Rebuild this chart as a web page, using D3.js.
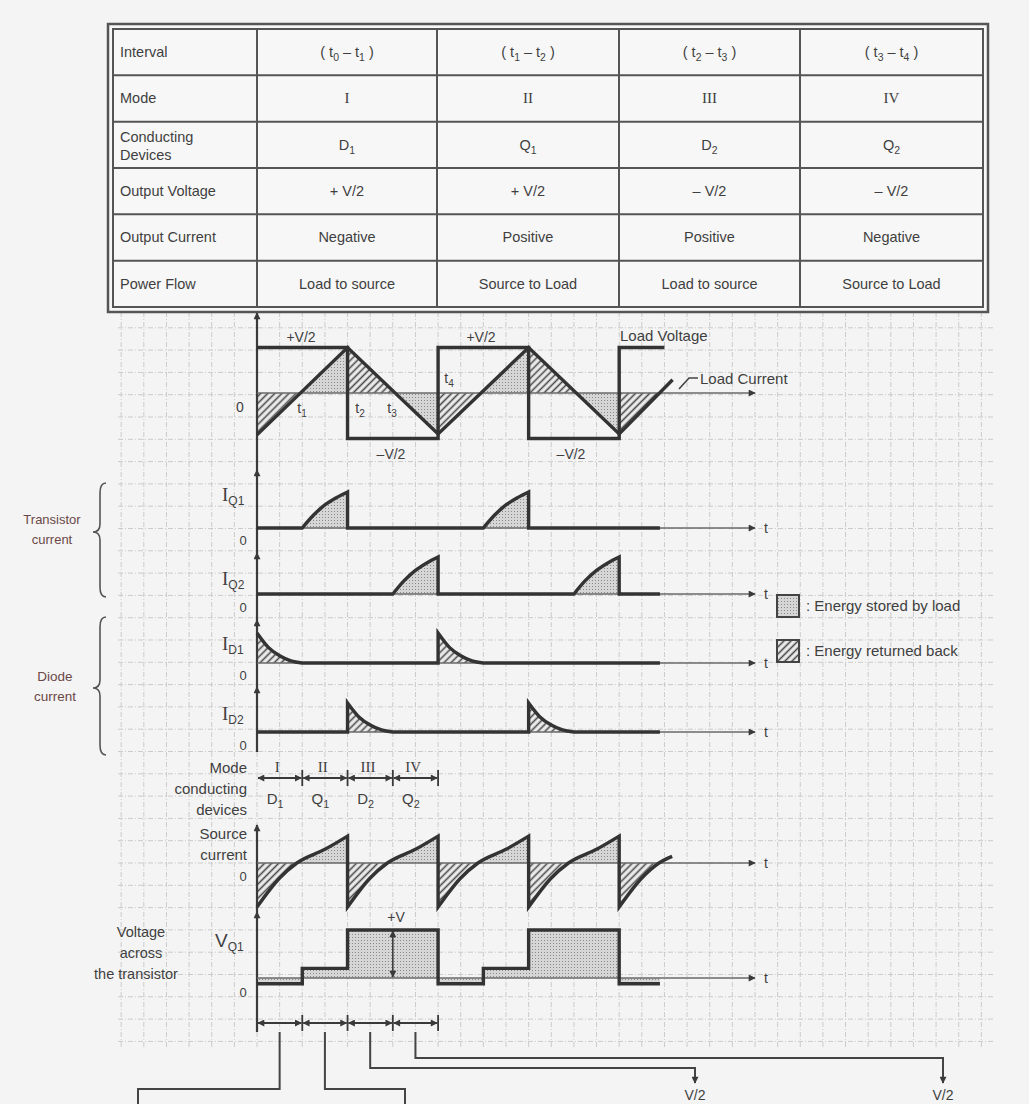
<!DOCTYPE html>
<html>
<head>
<meta charset="utf-8">
<script src="https://cdn.jsdelivr.net/npm/d3@7"></script>
<style>
body { margin: 0; background: #f4f4f4; }
svg text { font-family: "Liberation Sans", Arial, sans-serif; fill: #3f3f3f; }
svg text .serif, svg text.serif { font-family: "Liberation Serif", "Times New Roman", serif; }
</style>
</head>
<body>
<div id="chart"></div>
<script>
// ---- table contents ----
const rowHeads = [["Interval"], ["Mode"], ["Conducting", "Devices"], ["Output Voltage"], ["Output Current"], ["Power Flow"]];
const intervals = [["0", "1"], ["1", "2"], ["2", "3"], ["3", "4"]];
const modes = ["I", "II", "III", "IV"];
const devices = [["D", "1"], ["Q", "1"], ["D", "2"], ["Q", "2"]];
const outVoltage = ["+ V/2", "+ V/2", "\u2013 V/2", "\u2013 V/2"];
const outCurrent = ["Negative", "Positive", "Positive", "Negative"];
const powerFlow = ["Load to source", "Source to Load", "Load to source", "Source to Load"];

// ---- waveforms, time in quarter periods ----
const loadVoltage = [[0, 1], [2, 1], [2, -1], [4, -1], [4, 1], [6, 1], [6, -1], [8, -1], [8, 1], [9, 1]];
const loadCurrent = [[0, -0.92], [2, 1], [4, -0.9], [6, 1], [8, -0.9], [9.18, 0.29]];
const halfPeriods = [[0, 2], [2, 4], [4, 6], [6, 8], [8, 8.9]];

const iQ1 = [
  [[0, 0], [1, 0]],
  [[1, 0], [1.25, 0.36], [1.5, 0.64], [1.75, 0.84], [2, 1]],
  [[2, 0], [5, 0]],
  [[5, 0], [5.25, 0.36], [5.5, 0.64], [5.75, 0.84], [6, 1]],
  [[6, 0], [8.9, 0]]
];
const iQ2 = [
  [[0, 0], [3, 0]],
  [[3, 0], [3.25, 0.36], [3.5, 0.64], [3.75, 0.84], [4, 1]],
  [[4, 0], [7, 0]],
  [[7, 0], [7.25, 0.36], [7.5, 0.64], [7.75, 0.84], [8, 1]],
  [[8, 0], [8.9, 0]]
];
const iD1 = [
  [[0, 1], [0.25, 0.52], [0.5, 0.24], [0.75, 0.07], [1, 0]],
  [[1, 0], [4, 0]],
  [[4, 1], [4.25, 0.52], [4.5, 0.24], [4.75, 0.07], [5, 0]],
  [[5, 0], [8.9, 0]]
];
const iD2 = [
  [[0, 0], [2, 0]],
  [[2, 1], [2.25, 0.52], [2.5, 0.24], [2.75, 0.07], [3, 0]],
  [[3, 0], [6, 0]],
  [[6, 1], [6.25, 0.52], [6.5, 0.24], [6.75, 0.07], [7, 0]],
  [[7, 0], [8.9, 0]]
];
const sourceCurrent = [
  [[0, -1], [0.5, -0.34], [0.88, 0], [1.5, 0.31], [2, 0.61]],
  [[2, -1], [2.5, -0.34], [2.88, 0], [3.5, 0.31], [4, 0.61]],
  [[4, -1], [4.5, -0.34], [4.88, 0], [5.5, 0.31], [6, 0.61]],
  [[6, -1], [6.5, -0.34], [6.88, 0], [7.5, 0.31], [8, 0.61]],
  [[8, -1], [8.5, -0.34], [8.88, 0], [9.17, 0.15]]
];
const vQ1 = [[0, -0.12], [1, -0.12], [1, 0.2], [2, 0.2], [2, 1], [4, 1], [4, -0.12], [5, -0.12], [5, 0.2], [6, 0.2],
  [6, 1], [8, 1], [8, -0.12], [8.9, -0.12]];
const modeBounds = [0, 1, 2, 3, 4];

// ---- setup ----
const W = 1029, H = 1104;
const svg = d3.select("#chart").append("svg").attr("width", W).attr("height", H);
svg.append("rect").attr("width", W).attr("height", H).attr("fill", "#f4f4f4");
const defs = svg.append("defs");

const stip = defs.append("pattern").attr("id", "stipple").attr("patternUnits", "userSpaceOnUse")
  .attr("width", 3).attr("height", 3);
stip.append("rect").attr("width", 3).attr("height", 3).attr("fill", "#d6d6d6");
stip.append("rect").attr("x", 1).attr("y", 1).attr("width", 1).attr("height", 1).attr("fill", "#8a8a8a");

const hatch = defs.append("pattern").attr("id", "hatch").attr("patternUnits", "userSpaceOnUse")
  .attr("width", 5).attr("height", 5).attr("patternTransform", "rotate(45)");
hatch.append("rect").attr("width", 5).attr("height", 5).attr("fill", "#ededed");
hatch.append("line").attr("x1", 2.5).attr("x2", 2.5).attr("y1", 0).attr("y2", 5)
  .attr("stroke", "#4a4a4a").attr("stroke-width", 1.6);

defs.append("marker").attr("id", "arr").attr("viewBox", "0 0 10 10")
  .attr("refX", 9).attr("refY", 5).attr("markerWidth", 9).attr("markerHeight", 7)
  .attr("markerUnits", "userSpaceOnUse").attr("orient", "auto-start-reverse")
  .append("path").attr("d", "M0,0L10,5L0,10Z").attr("fill", "#3a3a3a");

let clipN = 0;
function clipRect(x0, y0, x1, y1) {
  const id = "clip" + (clipN++);
  defs.append("clipPath").attr("id", id).append("rect")
    .attr("x", x0).attr("y", y0).attr("width", x1 - x0).attr("height", y1 - y0);
  return "url(#" + id + ")";
}

function richText(g, px, py, parts, o = {}) {
  const size = o.size || 14;
  const t = g.append("text").attr("x", px).attr("y", py)
    .attr("text-anchor", o.anchor || "middle").attr("font-size", size);
  if (o.fill) t.style("fill", o.fill);
  let low = false;
  parts.forEach(p => {
    const part = typeof p === "string" ? {t: p} : p;
    const s = t.append("tspan").text(part.t);
    if (part.serif) s.attr("class", "serif");
    if (part.size) s.attr("font-size", part.size);
    if (part.sub) {
      s.attr("font-size", part.size || size * 0.72);
      if (!low) s.attr("dy", part.drop || 4);
      low = true;
    } else if (low) {
      s.attr("dy", -(part.drop || 4));
      low = false;
    }
  });
  return t;
}

const x = d3.scaleLinear().domain([0, 11]).range([257, 755]);

// ---- background grid ----
const grid = svg.append("g").attr("stroke", "#cbcbcb").attr("stroke-width", 1)
  .attr("stroke-dasharray", "5,2,1,2");
d3.range(-6, 33).map(k => x(k / 2)).filter(v => v > 117 && v < 996).forEach(v => {
  grid.append("line").attr("x1", v).attr("x2", v).attr("y1", 312).attr("y2", 1048);
});
d3.range(-24, 9).map(k => 863 + k * 22.3).forEach(v => {
  grid.append("line").attr("x1", 118).attr("x2", 995).attr("y1", v).attr("y2", v);
});

// ---- table ----
const cols = [113, 257, 437, 619, 800, 983];
const rowY = d3.range(7).map(i => 29 + i * 46.33);
const tbl = svg.append("g");
tbl.append("rect").attr("x", 108).attr("y", 24).attr("width", 880).attr("height", 288)
  .attr("fill", "#f7f7f7").attr("stroke", "#555").attr("stroke-width", 2.5);
tbl.append("rect").attr("x", 113).attr("y", 29).attr("width", 870).attr("height", 278)
  .attr("fill", "none").attr("stroke", "#555").attr("stroke-width", 2);
rowY.slice(1, -1).forEach(v => tbl.append("line").attr("x1", 113).attr("x2", 983)
  .attr("y1", v).attr("y2", v).attr("stroke", "#555").attr("stroke-width", 2));
cols.slice(1, -1).forEach(v => tbl.append("line").attr("x1", v).attr("x2", v)
  .attr("y1", 29).attr("y2", 307).attr("stroke", "#555").attr("stroke-width", 2));

rowHeads.forEach((lines, r) => {
  const cy = (rowY[r] + rowY[r + 1]) / 2;
  lines.forEach((s, i) => {
    const by = lines.length === 1 ? cy + 5 : cy - 3 + i * 18;
    tbl.append("text").attr("x", 120).attr("y", by).attr("font-size", 14.5).text(s);
  });
});
const cellRows = [
  intervals.map(d => ["( t", {t: d[0], sub: true}, " \u2013 t", {t: d[1], sub: true}, " )"]),
  modes.map(d => [{t: d, serif: true, size: 15}]),
  devices.map(d => [d[0], {t: d[1], sub: true}]),
  outVoltage.map(d => [d]),
  outCurrent.map(d => [d]),
  powerFlow.map(d => [d])
];
cellRows.forEach((row, r) => {
  const cy = (rowY[r] + rowY[r + 1]) / 2;
  row.forEach((parts, c) => {
    richText(tbl, (cols[c + 1] + cols[c + 2]) / 2, cy + 5, parts, {size: 14.5});
  });
});

// ---- panels ----
const panels = {
  load: {y: d3.scaleLinear().domain([-1, 1]).range([438.5, 347.5]), top: 313, bottom: 470},
  iQ1: {y: d3.scaleLinear().domain([0, 1]).range([528, 492]), top: 470, bottom: 553},
  iQ2: {y: d3.scaleLinear().domain([0, 1]).range([594, 557]), top: 553, bottom: 620},
  iD1: {y: d3.scaleLinear().domain([0, 1]).range([663, 633]), top: 620, bottom: 687},
  iD2: {y: d3.scaleLinear().domain([0, 1]).range([732, 703]), top: 687, bottom: 752},
  src: {y: d3.scaleLinear().domain([-1, 1]).range([907, 819]), top: 825, bottom: 912},
  vQ1: {y: d3.scaleLinear().domain([0, 1]).range([978, 930]), top: 912, bottom: 1032}
};

const fills = svg.append("g");
const axes = svg.append("g");
const waves = svg.append("g").attr("fill", "none").attr("stroke", "#333").attr("stroke-width", 3.4)
  .attr("stroke-linejoin", "miter");

// vertical + horizontal axes
Object.keys(panels).forEach(k => {
  const p = panels[k];
  axes.append("line").attr("x1", x(0)).attr("x2", x(0)).attr("y1", p.bottom).attr("y2", p.top)
    .attr("stroke", "#3a3a3a").attr("stroke-width", 2.2).attr("marker-end", "url(#arr)");
  axes.append("line").attr("x1", x(0)).attr("x2", x(11)).attr("y1", p.y(0)).attr("y2", p.y(0))
    .attr("stroke", "#6a6a6a").attr("stroke-width", 1.6).attr("marker-end", "url(#arr)");
  if (k !== "load") {
    axes.append("text").attr("x", x(11) + 9).attr("y", p.y(0) + 5).attr("font-size", 14).text("t");
  }
});

function runsPath(runs, y) {
  const line = d3.line().x(d => x(d[0])).y(d => y(d[1])).curve(d3.curveMonotoneX);
  return runs.map((r, i) => { const s = line(r); return i ? "L" + s.slice(1) : s; }).join("");
}
function runArea(run, y, curve) {
  return d3.area().x(d => x(d[0])).y0(y(0)).y1(d => y(d[1])).curve(curve)(run);
}

// load voltage / current
{
  const y = panels.load.y;
  const voltageAt = t => loadVoltage.filter(p => p[0] <= t).pop()[1];
  halfPeriods.forEach(([a, b]) => {
    const s = voltageAt((a + b) / 2);
    fills.append("path").attr("d", runArea(loadCurrent, y, d3.curveLinear))
      .attr("fill", s > 0 ? "url(#stipple)" : "url(#hatch)")
      .attr("clip-path", clipRect(x(a), 300, x(b), y(0)));
    fills.append("path").attr("d", runArea(loadCurrent, y, d3.curveLinear))
      .attr("fill", s > 0 ? "url(#hatch)" : "url(#stipple)")
      .attr("clip-path", clipRect(x(a), y(0), x(b), 480));
  });
  const line = d3.line().x(d => x(d[0])).y(d => y(d[1]));
  waves.append("path").attr("d", line(loadVoltage));
  waves.append("path").attr("d", line(loadCurrent));
}

// transistor and diode currents
[["iQ1", iQ1, "url(#stipple)"], ["iQ2", iQ2, "url(#stipple)"], ["iD1", iD1, "url(#hatch)"], ["iD2", iD2, "url(#hatch)"]]
  .forEach(([k, runs, pat]) => {
    const y = panels[k].y;
    runs.forEach(r => fills.append("path").attr("d", runArea(r, y, d3.curveMonotoneX)).attr("fill", pat));
    waves.append("path").attr("d", runsPath(runs, y));
  });

// source current
{
  const y = panels.src.y;
  sourceCurrent.forEach((r, i) => {
    const [a, b] = halfPeriods[i];
    fills.append("path").attr("d", runArea(r, y, d3.curveMonotoneX)).attr("fill", "url(#stipple)")
      .attr("clip-path", clipRect(x(a), 800, x(b), y(0)));
    fills.append("path").attr("d", runArea(r, y, d3.curveMonotoneX)).attr("fill", "url(#hatch)")
      .attr("clip-path", clipRect(x(a), y(0), x(b), 920));
  });
  waves.append("path").attr("d", runsPath(sourceCurrent, y));
}

// voltage across transistor
{
  const y = panels.vQ1.y;
  fills.append("path").attr("d", runArea(vQ1, y, d3.curveLinear)).attr("fill", "url(#stipple)");
  waves.append("path").attr("d", d3.line().x(d => x(d[0])).y(d => y(d[1]))(vQ1));
  axes.append("line").attr("x1", x(3)).attr("x2", x(3)).attr("y1", y(0) - 1).attr("y2", y(1) + 1)
    .attr("stroke", "#333").attr("stroke-width", 1.5)
    .attr("marker-start", "url(#arr)").attr("marker-end", "url(#arr)");
}

// ---- dimension arrows (mode row and bottom) ----
const dims = svg.append("g").attr("stroke", "#3a3a3a").attr("stroke-width", 1.8);
[[778, false], [1023, true]].forEach(([yy, firstTick]) => {
  d3.pairs(modeBounds).forEach(([a, b]) => {
    dims.append("line").attr("x1", x(a) + 1).attr("x2", x(b) - 1).attr("y1", yy).attr("y2", yy)
      .attr("marker-start", "url(#arr)").attr("marker-end", "url(#arr)");
  });
  modeBounds.forEach((m, i) => {
    if (i === 0 && !firstTick) return;
    dims.append("line").attr("x1", x(m)).attr("x2", x(m)).attr("y1", yy - 8).attr("y2", yy + 8);
  });
});
modes.forEach((m, i) => {
  svg.append("text").attr("class", "serif").attr("x", x(i + 0.45)).attr("y", 772)
    .attr("text-anchor", "middle").attr("font-size", 15).text(m);
});
devices.forEach((d, i) => {
  richText(svg, x(i + 0.4), 804, [d[0], {t: d[1], sub: true}], {size: 15});
});

// leaders at the bottom
const leaderDrop = [1089, 1089, 1068, 1058];
const leaderEnd = [138, 405, 695, 943];
const lead = svg.append("g").attr("fill", "none").attr("stroke", "#444").attr("stroke-width", 2);
modes.forEach((m, i) => {
  const x0 = x(i + 0.5);
  const endY = i < 2 ? 1110 : 1083;
  const p = lead.append("path")
    .attr("d", `M${x0},1032V${leaderDrop[i]}H${leaderEnd[i]}V${endY}`);
  if (i >= 2) {
    p.attr("marker-end", "url(#arr)");
    svg.append("text").attr("x", leaderEnd[i]).attr("y", 1100).attr("text-anchor", "middle")
      .attr("font-size", 14).text("V/2");
  }
});

// ---- labels ----
const L = svg.append("g");
const txt = (px, py, s, o = {}) => L.append("text").attr("x", px).attr("y", py)
  .attr("text-anchor", o.anchor || "middle").attr("font-size", o.size || 14)
  .style("fill", o.fill || null).text(s);

txt(301, 342, "+V/2");
txt(481, 342, "+V/2");
txt(391, 459, "\u2013V/2");
txt(571, 459, "\u2013V/2");
txt(620, 341, "Load Voltage", {anchor: "start", size: 15});
txt(700, 384, "Load Current", {anchor: "start", size: 15});
L.append("path").attr("d", "M679,389L689,378L698,378").attr("fill", "none")
  .attr("stroke", "#444").attr("stroke-width", 1.6);
txt(240, 412, "0");
richText(L, 302, 413, ["t", {t: "1", sub: true}], {size: 14});
richText(L, 360, 413, ["t", {t: "2", sub: true}], {size: 14});
richText(L, 392, 413, ["t", {t: "3", sub: true}], {size: 14});
richText(L, 449, 383, ["t", {t: "4", sub: true}], {size: 14});

[["iQ1", "Q1", 501, 545], ["iQ2", "Q2", 585, 612], ["iD1", "D1", 650, 680], ["iD2", "D2", 720, 750]]
  .forEach(([k, s, by, zy]) => {
    richText(L, 222, by, [{t: "I", serif: true, size: 19}, {t: s, sub: true, size: 12}], {anchor: "start"});
    txt(243, zy, "0", {size: 13});
  });

// braces
function brace(x0, y0, y1, ym) {
  return `M${x0 + 6},${y0}Q${x0},${y0} ${x0},${y0 + 10}L${x0},${ym - 8}Q${x0},${ym} ${x0 - 7},${ym}` +
    `Q${x0},${ym} ${x0},${ym + 8}L${x0},${y1 - 10}Q${x0},${y1} ${x0 + 6},${y1}`;
}
L.append("path").attr("d", brace(100, 483, 597, 532)).attr("fill", "none").attr("stroke", "#555").attr("stroke-width", 1.6);
L.append("path").attr("d", brace(100, 617, 755, 688)).attr("fill", "none").attr("stroke", "#555").attr("stroke-width", 1.6);
txt(52, 524, "Transistor", {size: 13, fill: "#6b4848"});
txt(52, 544, "current", {size: 13, fill: "#6b4848"});
txt(55, 681, "Diode", {size: 13.5, fill: "#6b4848"});
txt(55, 701, "current", {size: 13.5, fill: "#6b4848"});

// legend
L.append("rect").attr("x", 777).attr("y", 595).attr("width", 22).attr("height", 22)
  .attr("fill", "url(#stipple)").attr("stroke", "#444").attr("stroke-width", 2);
L.append("rect").attr("x", 777).attr("y", 640).attr("width", 22).attr("height", 22)
  .attr("fill", "url(#hatch)").attr("stroke", "#444").attr("stroke-width", 2);
txt(806, 611, ": Energy stored by load", {anchor: "start", size: 15});
txt(806, 656, ": Energy returned back", {anchor: "start", size: 15});

// mode / source / vq1 labels
txt(247, 773, "Mode", {anchor: "end", size: 15});
txt(247, 794, "conducting", {anchor: "end", size: 15});
txt(247, 815, "devices", {anchor: "end", size: 15});
txt(247, 839, "Source", {anchor: "end", size: 15});
txt(247, 860, "current", {anchor: "end", size: 15});
txt(243, 881, "0", {size: 13});
txt(141, 937, "Voltage", {size: 14.5});
txt(141, 958, "across", {size: 14.5});
txt(136, 979, "the transistor", {size: 14.5});
richText(L, 215, 947, [{t: "V", size: 19}, {t: "Q1", sub: true, size: 12}], {anchor: "start"});
txt(243, 997, "0", {size: 13});
txt(396, 922, "+V", {size: 14});
</script>
</body>
</html>
